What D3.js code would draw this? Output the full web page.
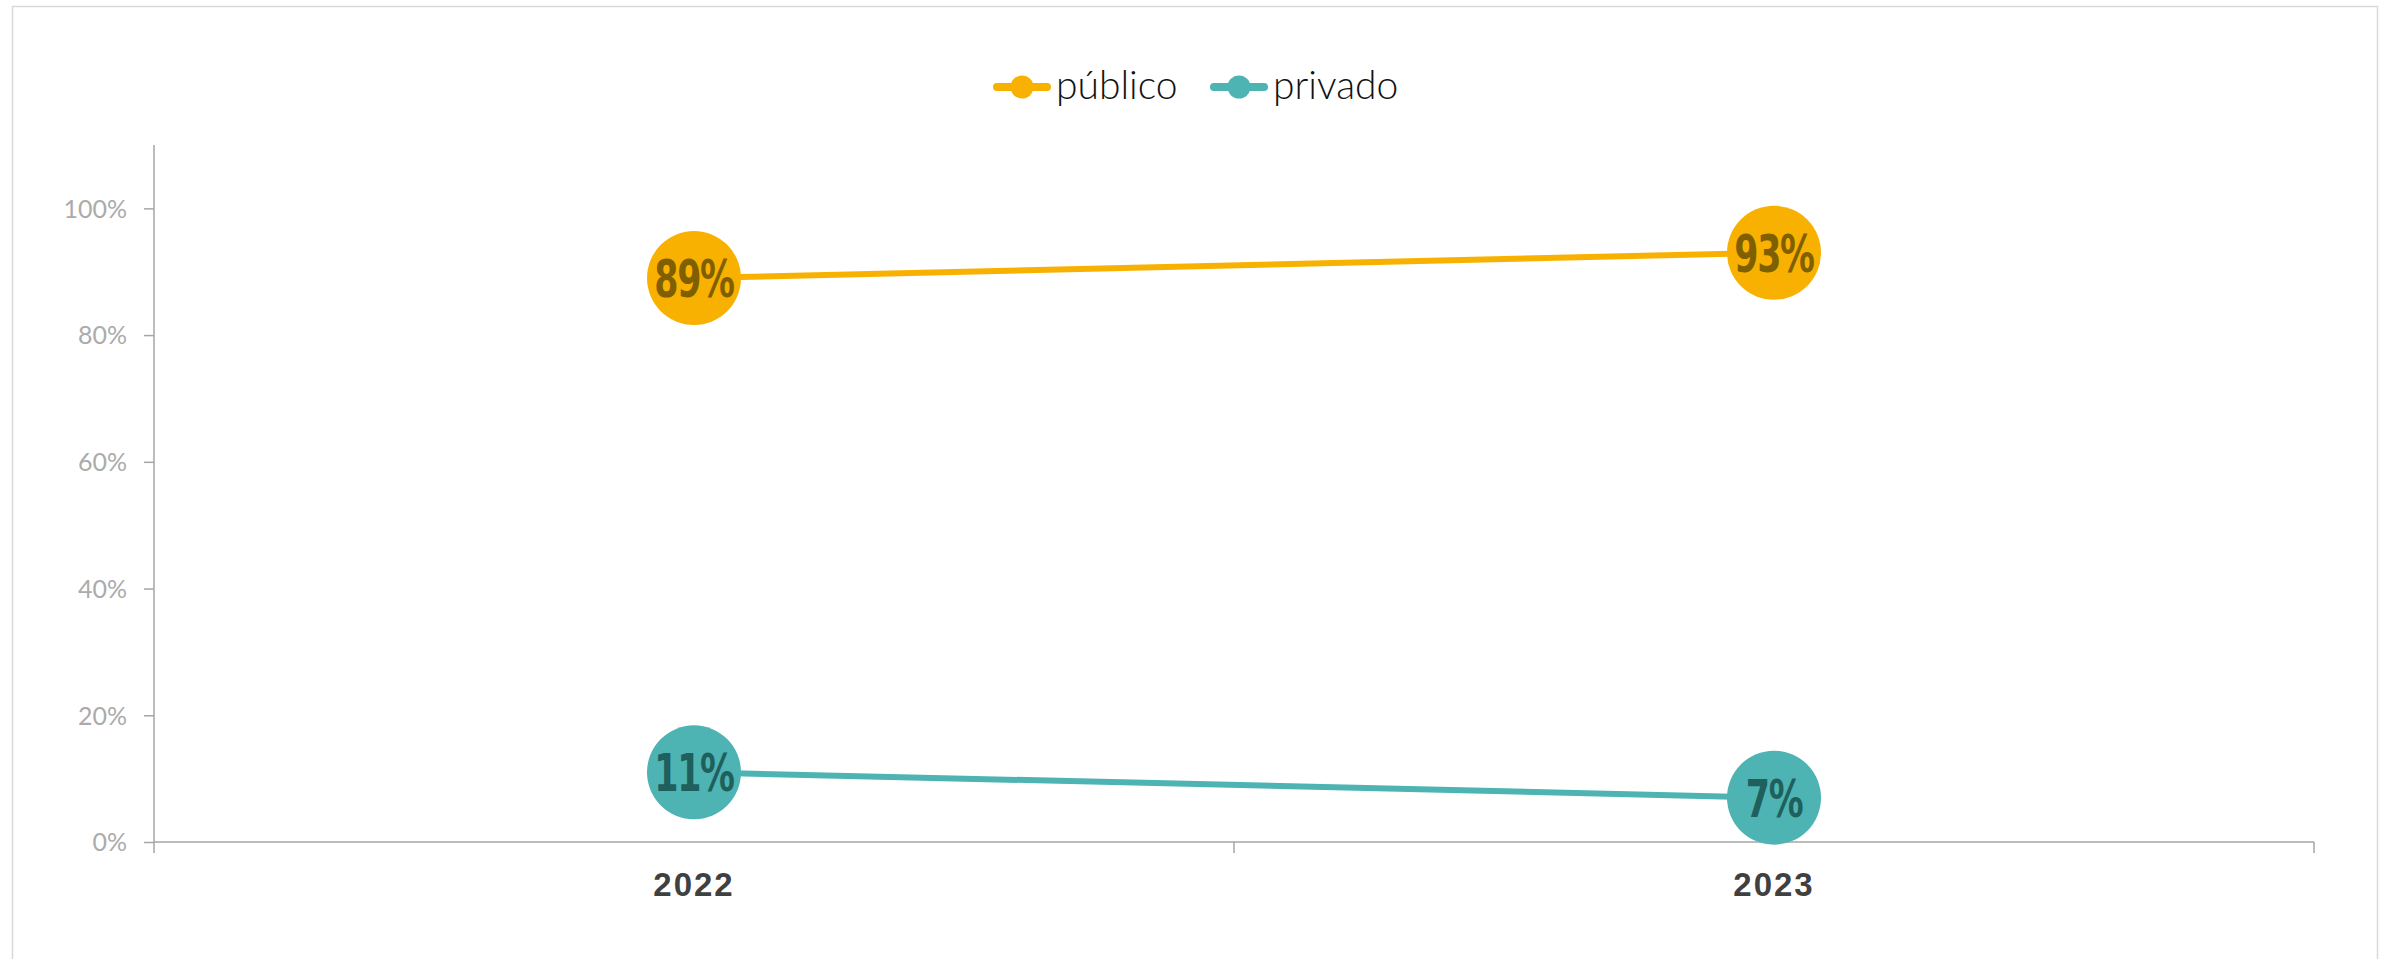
<!DOCTYPE html>
<html>
<head>
<meta charset="utf-8">
<script src="https://cdn.jsdelivr.net/npm/d3@7"></script>
<style>
  html, body { margin: 0; padding: 0; background: #fff; }
  svg { display: block; }
</style>
</head>
<body>
<svg id="chart" width="2389" height="959"></svg>
<script>
const categories = ["2022", "2023"];
const seriesNames = ["público", "privado"];
const publico = [0.89, 0.93];
const privado = [0.11, 0.07];
const yTicks = [0, 0.2, 0.4, 0.6, 0.8, 1.0];
const colors = ["#F8B100", "#4DB3B3"];
const labelColors = ["#7F5F00", "#1F5F5C"];

(function () {
const W = 2389, H = 959;
const pLeft = 154, pRight = 2314, pTop = 145, pBottom = 842;
const svg = d3.select("#chart");

// outer frame
svg.append("rect").attr("x", 12.5).attr("y", 6.5).attr("width", 2365).attr("height", 970)
  .attr("fill", "#fff").attr("stroke", "#d9d9d9").attr("stroke-width", 1.5);

const x = d3.scaleBand().domain(categories).range([pLeft, pRight]);
const y = d3.scaleLinear().domain([0, 1.1]).range([pBottom, pTop]);

// y axis
const yAxis = svg.append("g").attr("transform", `translate(${pLeft},0)`)
  .call(d3.axisLeft(y).tickValues(yTicks).tickFormat(d3.format(".0%")).tickSize(10).tickPadding(17));
yAxis.select(".domain").attr("stroke", "#a6a6a6").attr("stroke-width", 1.5).attr("d", `M0,${pBottom}V${pTop}`);
yAxis.selectAll(".tick line").attr("stroke", "#a6a6a6").attr("stroke-width", 1.5);
yAxis.selectAll(".tick text").attr("fill", "#ababab").attr("font-family", "Lato, 'Open Sans', sans-serif")
  .attr("font-weight", 400).attr("font-size", 25).attr("dy", "0.35em");

// x axis
const xAxis = svg.append("g").attr("transform", `translate(0,${pBottom})`)
  .call(d3.axisBottom(x).tickSize(0).tickPadding(0));
xAxis.select(".domain").attr("stroke", "#a6a6a6").attr("stroke-width", 1.5).attr("d", `M${pLeft},0H${pRight}`);
xAxis.selectAll(".tick text").attr("fill", "#404040").attr("font-family", "'Liberation Sans', Arial, sans-serif")
  .attr("font-weight", "bold").attr("font-size", 33).attr("letter-spacing", 2).attr("y", 54).attr("dy", 0);
// band boundary ticks
const bounds = [pLeft, ...categories.slice(1).map(c => x(c)), pRight];
svg.append("g").selectAll("line").data(bounds).join("line")
  .attr("x1", d => d).attr("x2", d => d).attr("y1", pBottom).attr("y2", pBottom + 11)
  .attr("stroke", "#a6a6a6").attr("stroke-width", 1.5);

const series = [publico, privado];
const cx = c => x(c) + x.bandwidth() / 2;

series.forEach((vals, i) => {
  const pts = categories.map((c, j) => ({ c, v: vals[j] }));
  svg.append("path").datum(pts)
    .attr("fill", "none").attr("stroke", colors[i]).attr("stroke-width", 6)
    .attr("d", d3.line().x(d => cx(d.c)).y(d => y(d.v)));
  const g = svg.append("g");
  g.selectAll("circle").data(pts).join("circle")
    .attr("cx", d => cx(d.c)).attr("cy", d => y(d.v)).attr("r", 47).attr("fill", colors[i]);
  g.selectAll("text").data(pts).join("text")
    .attr("transform", d => `translate(${cx(d.c)},${y(d.v) + 19}) scale(0.67,1)`)
    .attr("text-anchor", "middle")
    .attr("font-family", "'DejaVu Sans', sans-serif")
    .attr("font-weight", "bold").attr("font-size", 52)
    .attr("letter-spacing", -2)
    .attr("fill", labelColors[i])
    .text(d => d3.format(".0%")(d.v));
});

// legend
const legendX = [993, 1210];
const legend = svg.append("g");
seriesNames.forEach((name, i) => {
  const lx = legendX[i];
  legend.append("line").attr("x1", lx + 4).attr("x2", lx + 54).attr("y1", 87).attr("y2", 87)
    .attr("stroke", colors[i]).attr("stroke-width", 8).attr("stroke-linecap", "round");
  legend.append("circle").attr("cx", lx + 29).attr("cy", 87).attr("r", 11.5).attr("fill", colors[i]);
  legend.append("text").attr("x", lx + 63).attr("y", 99)
    .attr("font-family", "Lato, 'Open Sans', sans-serif").attr("font-size", 39).attr("font-weight", 300)
    .attr("fill", "#111").text(name);
});
})();
</script>
</body>
</html>
